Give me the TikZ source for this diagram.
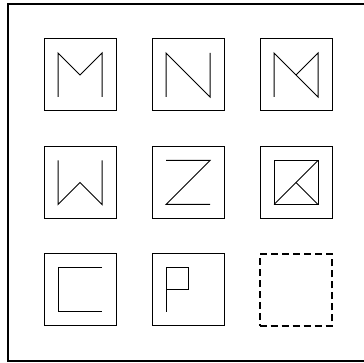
\documentclass[tikz,border=0pt]{standalone}
\begin{document}
\begin{tikzpicture}[x=1pt,y=1pt,
  box/.style={draw, line width=1pt, minimum size=72pt, inner sep=0pt, outer sep=0pt},
  dbox/.style={draw, line width=2pt, dash pattern=on 7pt off 4pt, minimum size=72pt, inner sep=0pt, outer sep=0pt},
  glyph/.style={line width=1pt, line join=miter},
  frame/.style={line width=2pt}]
\useasboundingbox (0,0) rectangle (364,363);
\clip (0,0) rectangle (364,363);
\draw[frame] (8,2) rectangle (372,359);
% boxes
\node[box] (b1) at (80,288) {};
\node[box] (b2) at (188,288) {};
\node[box] (b3) at (296,288) {};
\node[box] (b4) at (80,180.5) {};
\node[box] (b5) at (188,180.5) {};
\node[box] (b6) at (296,180.5) {};
\node[box] (b7) at (80,73) {};
\node[box] (b8) at (188,73) {};
\node[dbox] (b9) at (295.5,72.5) {};
% glyphs
\begin{scope}[shift={(b1.center)}]
  \draw[glyph] (-22,-22)--(-22,22)--(0,0)--(22,22)--(22,-22);
\end{scope}
\begin{scope}[shift={(b2.center)}]
  \draw[glyph] (-22,-22)--(-22,22)--(22,-22)--(22,22);
\end{scope}
\begin{scope}[shift={(b3.center)}]
  \draw[glyph] (-22,-22)--(-22,22)--(22,-22)--(22,22)--(0,0);
\end{scope}
\begin{scope}[shift={(b4.center)}]
  \draw[glyph] (-22,22)--(-22,-22)--(0,0)--(22,-22)--(22,22);
\end{scope}
\begin{scope}[shift={(b5.center)}]
  \draw[glyph] (-22,22)--(22,22)--(-22,-22)--(22,-22);
\end{scope}
\begin{scope}[shift={(b6.center)}]
  \draw[glyph] (-22,-22) rectangle (22,22);
  \draw[glyph] (-22,-22)--(22,22);
  \draw[glyph] (0,0)--(22,-22);
\end{scope}
\begin{scope}[shift={(b7.center)}]
  \draw[glyph] (22,22)--(-22,22)--(-22,-22)--(22,-22);
\end{scope}
\begin{scope}[shift={(b8.center)}]
  \draw[glyph] (-22,-22)--(-22,22)--(0,22)--(0,0)--(-22,0);
\end{scope}
\end{tikzpicture}
\end{document}
